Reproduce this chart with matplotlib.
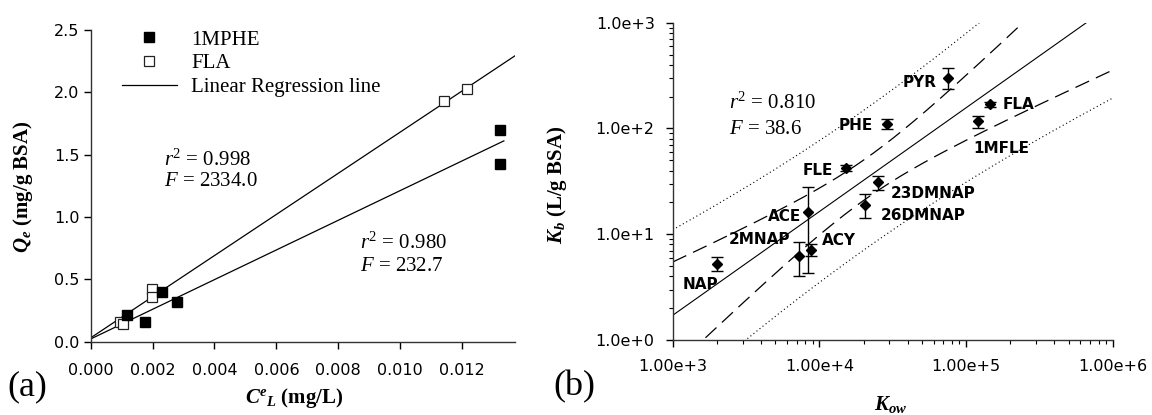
import numpy as np
import matplotlib
matplotlib.use('Agg')
import matplotlib.pyplot as plt
from matplotlib.lines import Line2D
from matplotlib.ticker import FixedLocator, FixedFormatter, LogLocator, NullFormatter

# ---------------- Panel (a) data ----------------
mphe_x = [0.00116, 0.00175, 0.00229, 0.00280, 0.01323, 0.01323]
mphe_y = [0.214, 0.158, 0.396, 0.321, 1.695, 1.425]
fla_x = [0.00095, 0.00105, 0.00197, 0.00197, 0.01140, 0.01215]
fla_y = [0.158, 0.142, 0.420, 0.356, 1.932, 2.028]
legend_labels = ['1MPHE', 'FLA', 'Linear Regression line']
fit_intercept = [0.022, 0.031]      # 1MPHE, FLA
fit_slope = [119.0, 165.0]
fit_xmax = [0.01335, 0.0137]
stats_r2_a = ['0.980', '0.998']
stats_F_a = ['232.7', '2334.0']
xticks_a = [0.000, 0.002, 0.004, 0.006, 0.008, 0.010, 0.012]
xticklabels_a = ['0.000', '0.002', '0.004', '0.006', '0.008', '0.010', '0.012']
yticks_a = [0.0, 0.5, 1.0, 1.5, 2.0, 2.5]
yticklabels_a = ['0.0', '0.5', '1.0', '1.5', '2.0', '2.5']

# ---------------- Panel (b) data ----------------
compounds = ['NAP', '2MNAP', 'ACE', 'ACY', 'FLE', '26DMNAP', '23DMNAP',
             'PHE', 'PYR', '1MFLE', 'FLA']
kow = [2000, 7244, 8318, 8710, 15240, 20470, 25180, 28900, 75860, 120300, 145600]
kb = [5.22, 6.22, 16.2, 7.1, 42.6, 18.9, 31.2, 110.9, 302, 117.5, 169]
kb_low = [4.49, 4.0, 4.27, 6.2, 39.5, 14.1, 26.2, 97.9, 234, 101.6, 160]
kb_high = [6.04, 8.37, 28.1, 8.0, 45.5, 23.8, 35.7, 123.7, 370, 132, 178]
stats_r2_b = '0.810'
stats_F_b = '38.6'
xticks_b = [1e3, 1e4, 1e5, 1e6]
xticklabels_b = ['1.00e+3', '1.00e+4', '1.00e+5', '1.00e+6']
yticks_b = [1e0, 1e1, 1e2, 1e3]
yticklabels_b = ['1.0e+0', '1.0e+1', '1.0e+2', '1.0e+3']
t_95_df9 = 2.262

# label offsets (pixels) and horizontal alignment
label_style = {
    'NAP': (-16.5, -20, 'center'), '2MNAP': (-8.5, 17, 'right'),
    'ACE': (-6.6, -4, 'right'), 'ACY': (11.8, 9, 'left'),
    'FLE': (-13.6, -3.3, 'right'), '26DMNAP': (15.4, -11, 'left'),
    '23DMNAP': (12.1, -11.3, 'left'), 'PHE': (-14, -1.3, 'right'),
    'PYR': (-12.1, -5, 'right'), '1MFLE': (-4.8, -27.3, 'left'),
    'FLA': (12.5, 0, 'left'),
}

plt.rcParams['mathtext.fontset'] = 'custom'
plt.rcParams['mathtext.rm'] = 'Liberation Serif'
plt.rcParams['mathtext.it'] = 'Liberation Serif:italic'
plt.rcParams['mathtext.bf'] = 'Liberation Serif:bold:italic'
plt.rcParams['font.family'] = ['DejaVu Sans']

W, H = 1152, 415
fig = plt.figure(figsize=(W / 100, H / 100), dpi=100)

def fx(px):
    return px / W

def fy(py):
    return 1 - py / H

SERIF = 'Liberation Serif'
TICK_FS = 11.5

# ---------------- Panel (a) ----------------
ax1 = fig.add_axes([fx(90.7), fy(341.7), (514.7 - 90.7) / W, (341.7 - 30) / H])
for i, (xs_, ys_) in enumerate([(mphe_x, mphe_y), (fla_x, fla_y)]):
    xl = np.array([0.0, fit_xmax[i]])
    ax1.plot(xl, fit_intercept[i] + fit_slope[i] * xl, color='k', lw=0.9, zorder=2)
ax1.plot(fla_x, fla_y, 's', ms=7, mfc='white', mec='#222222', mew=0.9, zorder=3)
ax1.plot(mphe_x, mphe_y, 's', ms=7, mfc='black', mec='black', zorder=4)
ax1.set_xlim(0, 0.0137)
ax1.set_ylim(0, 2.5)
ax1.set_xticks(xticks_a)
ax1.set_xticklabels(xticklabels_a)
ax1.set_yticks(yticks_a)
ax1.set_yticklabels(yticklabels_a)
ax1.tick_params(axis='x', direction='out', length=5, width=1, pad=10, labelsize=TICK_FS)
ax1.tick_params(axis='y', direction='out', length=5, width=1, pad=3, labelsize=TICK_FS)
for s in ['top', 'right']:
    ax1.spines[s].set_visible(False)
for s in ['left', 'bottom']:
    ax1.spines[s].set_linewidth(1)
    ax1.spines[s].set_color('#333333')

handles = [Line2D([], [], marker='s', ls='', ms=7, mfc='black', mec='black'),
           Line2D([], [], marker='s', ls='', ms=7, mfc='white', mec='#222222', mew=0.9),
           Line2D([], [], color='k', lw=0.9)]
ax1.legend(handles, legend_labels, loc='upper left', bbox_to_anchor=(0.0748, 1.0),
           frameon=False, prop={'family': SERIF, 'size': 15}, handlelength=2.6,
           handletextpad=0.7, labelspacing=0.2, borderpad=0, borderaxespad=0)

ax1.text(0.00237, 1.458, r'$r^2$ = ' + stats_r2_a[1], family=SERIF, fontsize=15, va='center')
ax1.text(0.00237, 1.284, r'$F$ = ' + stats_F_a[1], family=SERIF, fontsize=15, va='center')
ax1.text(0.0087, 0.79, r'$r^2$ = ' + stats_r2_a[0], family=SERIF, fontsize=15, va='center')
ax1.text(0.0087, 0.60, r'$F$ = ' + stats_F_a[0], family=SERIF, fontsize=15, va='center')

fig.text(fx(23.3), fy(187), r'$\mathbf{Q}_{\mathbf{e}}$ (mg/g BSA)', family=SERIF,
         fontweight='bold', fontsize=15, rotation=90, ha='center', va='center')
fig.text(fx(294), fy(398), r'$\mathbf{C}^{\mathbf{e}}{}_{\mathbf{L}}$ (mg/L)', family=SERIF,
         fontweight='bold', fontsize=15, ha='center', va='center')
fig.text(fx(7), fy(387), '(a)', family=SERIF, fontsize=26, ha='left', va='center')

# ---------------- Panel (b) ----------------
ax2 = fig.add_axes([fx(672.7), fy(340), (1112.8 - 672.7) / W, (340 - 22.7) / H])
ax2.set_xscale('log')
ax2.set_yscale('log')

lx = np.log10(np.array(kow, dtype=float))
ly = np.log10(np.array(kb, dtype=float))
n = len(lx)
slope, inter = np.polyfit(lx, ly, 1)
res = ly - (inter + slope * lx)
s_err = np.sqrt(np.sum(res ** 2) / (n - 2))
sxx = np.sum((lx - lx.mean()) ** 2)
xs = np.linspace(3, 6, 400)
yfit = inter + slope * xs
ci = t_95_df9 * s_err * np.sqrt(1 / n + (xs - lx.mean()) ** 2 / sxx)
pi = t_95_df9 * s_err * np.sqrt(1 + 1 / n + (xs - lx.mean()) ** 2 / sxx)
X = 10 ** xs
ax2.plot(X, 10 ** yfit, color='k', lw=0.8)
ax2.plot(X, 10 ** (yfit + ci), color='k', lw=0.9, ls=(0, (12, 6)))
ax2.plot(X, 10 ** (yfit - ci), color='k', lw=0.9, ls=(0, (12, 6)))
ax2.plot(X, 10 ** (yfit + pi), color='k', lw=0.8, ls=(0, (1, 2.5)))
ax2.plot(X, 10 ** (yfit - pi), color='k', lw=0.8, ls=(0, (1, 2.5)))

kb_a = np.array(kb)
yerr = [kb_a - np.array(kb_low), np.array(kb_high) - kb_a]
ax2.errorbar(kow, kb, yerr=yerr, fmt='D', color='k', ms=5, capsize=4,
             elinewidth=1, capthick=1, zorder=5)

for name, xv, yv in zip(compounds, kow, kb):
    dx, dy, ha = label_style[name]
    ax2.annotate(name, (xv, yv), xytext=(dx, dy), textcoords='offset pixels',
                 ha=ha, va='center', fontsize=11, fontweight='bold', family='DejaVu Sans')

ax2.set_xlim(1e3, 1e6)
ax2.set_ylim(1e0, 1e3)
ax2.xaxis.set_major_locator(FixedLocator(xticks_b))
ax2.xaxis.set_major_formatter(FixedFormatter(xticklabels_b))
ax2.yaxis.set_major_locator(FixedLocator(yticks_b))
ax2.yaxis.set_major_formatter(FixedFormatter(yticklabels_b))
ax2.xaxis.set_minor_locator(LogLocator(base=10, subs=np.arange(2, 10)))
ax2.yaxis.set_minor_locator(LogLocator(base=10, subs=np.arange(2, 10)))
ax2.xaxis.set_minor_formatter(NullFormatter())
ax2.yaxis.set_minor_formatter(NullFormatter())
ax2.tick_params(axis='both', which='major', direction='out', length=5, width=1, labelsize=TICK_FS)
ax2.tick_params(axis='both', which='minor', direction='out', length=3, width=0.8)
ax2.tick_params(axis='x', which='major', pad=9)
ax2.tick_params(axis='y', which='major', pad=8)
for s in ['top', 'right']:
    ax2.spines[s].set_visible(False)
for s in ['left', 'bottom']:
    ax2.spines[s].set_linewidth(1)
    ax2.spines[s].set_color('#333333')

ax2.text(0.127, 0.746, r'$r^2$ = ' + stats_r2_b, transform=ax2.transAxes,
         family=SERIF, fontsize=15, va='center')
ax2.text(0.127, 0.664, r'$F$ = ' + stats_F_b, transform=ax2.transAxes,
         family=SERIF, fontsize=15, va='center')

fig.text(fx(557), fy(185), r'$\mathbf{K}_{\mathbf{b}}$ (L/g BSA)', family=SERIF,
         fontweight='bold', fontsize=15, rotation=90, ha='center', va='center')
fig.text(fx(891), fy(404), r'$\mathbf{K}_{\mathbf{ow}}$', family=SERIF,
         fontweight='bold', fontsize=15, ha='center', va='center')
fig.text(fx(553), fy(387), '(b)', family=SERIF, fontsize=26, ha='left', va='center')

fig.savefig('out.png', dpi=100)
